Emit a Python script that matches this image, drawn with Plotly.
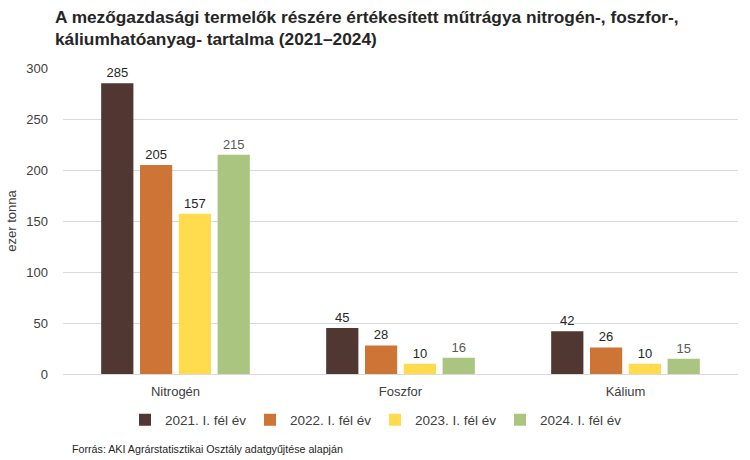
import plotly.graph_objects as go

categories = ["Nitrogén", "Foszfor", "Kálium"]
series_names = ["2021. I. fél év", "2022. I. fél év", "2023. I. fél év", "2024. I. fél év"]
values_2021 = [285, 45, 42]
values_2022 = [205, 28, 26]
values_2023 = [157, 10, 10]
values_2024 = [215, 16, 15]
colors = ["#513731", "#CD7536", "#FFDB4D", "#AAC57F"]
label_colors = ["#262626", "#262626", "#262626", "#595959"]
y_ticks = [0, 50, 100, 150, 200, 250, 300]

all_values = [values_2021, values_2022, values_2023, values_2024]

fig = go.Figure()
for name, vals, col, lc in zip(series_names, all_values, colors, label_colors):
    fig.add_trace(go.Bar(
        x=categories, y=vals, name=name,
        marker=dict(color=col, line=dict(width=0)),
        text=[str(v) for v in vals], textposition="outside",
        textfont=dict(family="Liberation Sans, Arial", size=13, color=lc),
        cliponaxis=False,
    ))

fig.update_layout(
    width=750, height=460,
    margin=dict(l=63, r=12, t=68, b=86, autoexpand=False),
    paper_bgcolor="white", plot_bgcolor="white",
    font=dict(family="Liberation Sans, Arial", size=13, color="#404040"),
    barmode="group", bargap=0.31, bargroupgap=0.17,
    title=dict(
        text="A mezőgazdasági termelők részére értékesített műtrágya nitrogén-, foszfor-,<br>káliumhatóanyag- tartalma (2021–2024)",
        x=55/750, xanchor="left", xref="container",
        y=1 - 23/460, yanchor="middle", yref="container",
        font=dict(family="Liberation Sans, Arial", size=17.3, color="#262626", weight="bold"),
        automargin=False,
    ),
    showlegend=True,
    legend=dict(orientation="h", x=(125 - 63) / 675, xanchor="left", y=-(420 - 374) / 306, yanchor="middle",
                font=dict(size=13.5, color="#404040"), entrywidth=80, entrywidthmode="pixels",
                traceorder="normal", tracegroupgap=0, itemwidth=30),
)
fig.update_xaxes(showline=True, linecolor="#d9d9d9", linewidth=1, ticks="",
                 tickfont=dict(size=13, color="#404040"), ticklabelstandoff=5)
fig.update_yaxes(range=[0, 300], tickvals=y_ticks, showgrid=True, gridcolor="#d9d9d9",
                 zeroline=False, showline=False,
                 tickfont=dict(size=13, color="#404040"), ticklabelstandoff=14,
                 title=dict(text="ezer tonna", font=dict(size=13, color="#404040"), standoff=6))

fig.add_annotation(text="Forrás: AKI Agrárstatisztikai Osztály adatgyűjtése alapján",
                   xref="paper", yref="paper", x=(70 - 63) / 675, y=-(449 - 374) / 306,
                   xanchor="left", yanchor="middle", showarrow=False,
                   font=dict(size=10.7, color="#262626"))

fig.write_html("out.html", config={"displayModeBar": False},
               post_script="document.body.style.margin='0';")
